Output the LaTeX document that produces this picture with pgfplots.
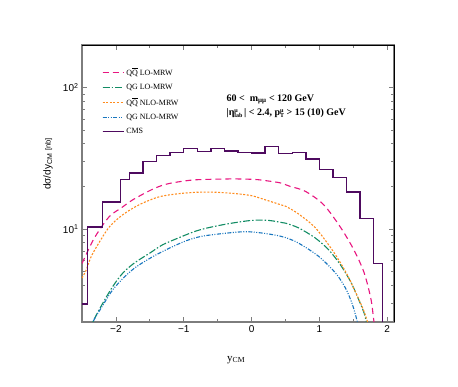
\documentclass[border=0pt]{standalone}
\usepackage{fontspec}
\setmainfont{Liberation Serif}
\setsansfont{Liberation Sans}
\usepackage{pgfplots}
\pgfplotsset{compat=1.18}
\definecolor{cpink}{RGB}{232,22,128}
\definecolor{cgreen}{RGB}{18,140,100}
\definecolor{corange}{RGB}{255,140,30}
\definecolor{cblue}{RGB}{25,118,190}
\definecolor{cpurple}{RGB}{78,10,95}
\definecolor{axgray}{RGB}{125,125,125}
\newcommand\qqbar{Q$\overline{\hbox{Q}}$}
\newcommand\supsub[2]{\raisebox{-0.5ex}{\fontsize{6}{6}\selectfont\begin{tabular}[b]{@{}l@{}}#1\\[-1.2pt]#2\end{tabular}}}
\begin{document}
\begin{tikzpicture}
\path[use as bounding box] (-82pt,-65pt) rectangle (376pt,322pt);
\begin{axis}[
  at={(0,0)}, anchor=south west,
  scale only axis, width=312pt, height=277pt,
  xmin=-2.5, xmax=2.1,
  ymode=log, ymin=2.2, ymax=200,
  xtick={-2,-1,0,1,2}, xticklabels={−2,−1,0,1,2},
  minor x tick num=1,
  ytick={10,100}, yticklabels={10\textsuperscript{1},10\textsuperscript{2}},
  minor ytick={3,4,5,6,7,8,9,20,30,40,50,60,70,80,90},
  tick align=inside,
  major tick length=5pt, minor tick length=3pt,
  tick style={axgray, line width=0.8pt},
  tick label style={font=\sffamily\fontsize{10}{12}\selectfont},
  axis line style={draw=axgray, line width=1.1pt},
  clip mode=individual,
  legend style={at={(0.063,0.925)}, anchor=north west, draw=none, fill=none,
    font=\fontsize{8}{9}\selectfont, row sep=3.2pt, inner sep=0pt},
  legend cell align=left,
  legend image code/.code={\draw[#1, line width=1.4pt] (0pt,0pt) -- (16pt,0pt); \path (0pt,0pt) -- (21pt,0pt);},
]
% QQbar LO-MRW
\addplot[draw=cpink, line width=1.1pt, dash pattern=on 6pt off 4pt, smooth] coordinates {
(-2.5,5.7) (-2.32,8.6) (-2.10,12.2) (-1.92,14.1) (-1.75,16.1) (-1.45,19.2)
(-1.23,20.9) (-0.91,22.1) (-0.69,22.4) (-0.27,22.6) (0.05,22.4) (0.23,21.9)
(0.42,21.2) (0.57,20.0) (0.79,18.5) (1.06,14.9) (1.31,10.3) (1.51,7.1)
(1.66,4.9) (1.76,3.2) (1.80,2.3) (1.83,1.8)};
\addlegendentry{\qqbar\ LO-MRW}
% QG LO-MRW
\addplot[draw=cgreen, line width=1.1pt, dash pattern=on 7pt off 2pt on 1.5pt off 2pt, smooth] coordinates {
(-2.37,1.9) (-2.34,2.2) (-2.20,2.95) (-2.05,3.9) (-1.90,4.87) (-1.73,5.74) (-1.50,6.76)
(-1.31,7.74) (-1.06,8.72) (-0.84,9.6) (-0.64,10.2) (-0.34,10.9) (0,11.5)
(0.25,11.5) (0.45,11.1) (0.5,11.0) (0.69,10.2) (0.94,8.63) (1.14,7.1)
(1.31,5.58) (1.46,4.25) (1.56,3.33) (1.66,2.54) (1.70,2.1) (1.72,1.9)};
\addlegendentry{QG LO-MRW}
% QQbar NLO-MRW
\addplot[draw=corange, line width=1.1pt, dash pattern=on 2pt off 1.6pt, smooth] coordinates {
(-2.5,4.5) (-2.44,5.1) (-2.37,6.3) (-2.27,7.7) (-2.10,10.3) (-1.90,12.6)
(-1.65,14.9) (-1.36,16.9) (-1.06,17.8) (-0.79,18.2) (-0.54,18.2) (-0.24,17.8)
(0,17.2) (0.2,16.1) (0.4,15.0) (0.5,14.5) (0.69,12.8) (0.94,10.2) (1.19,7.1)
(1.385,5.0) (1.53,3.6) (1.66,2.6) (1.75,1.9)};
\addlegendentry{\qqbar\ NLO-MRW}
% QG NLO-MRW
\addplot[draw=cblue, line width=1.1pt, dash pattern=on 4pt off 1.5pt on 1pt off 1.5pt on 1pt off 1.5pt, smooth] coordinates {
(-2.37,1.9) (-2.34,2.2) (-2.2,2.85) (-2.05,3.7) (-1.87,4.6) (-1.70,5.4) (-1.45,6.4)
(-1.21,7.33) (-0.96,8.27) (-0.74,8.87) (-0.44,9.27) (-0.1,9.57) (0.15,9.37)
(0.40,8.96) (0.5,8.7) (0.69,7.96) (0.99,6.4) (1.24,4.87) (1.385,3.82)
(1.48,2.99) (1.54,2.4) (1.57,2.1) (1.59,1.9)};
\addlegendentry{QG NLO-MRW}
% CMS
\addplot[draw=cpurple, line width=1.4pt, const plot mark left] coordinates {
(-2.5,2.95) (-2.42,10.3) (-2.2,15.5) (-1.93,22.4) (-1.8,24.9) (-1.6,30.1)
(-1.4,33.1) (-1.2,34.9) (-1.0,37.1) (-0.8,35.3) (-0.6,37.1) (-0.4,35.5)
(-0.2,34.9) (0,34.4) (0.2,38.5) (0.4,34.2) (0.6,34.8) (0.8,31.3) (1.0,26.3)
(1.2,23.1) (1.4,18.3) (1.6,11.9) (1.8,5.68) (1.93,1.0)};
\addlegendentry{CMS}
\draw[black, line width=0.7pt] (rel axis cs:0,1) -- (rel axis cs:1,1) -- (rel axis cs:1,0);
\node[anchor=west, font=\bfseries\fontsize{10}{12}\selectfont] at (rel axis cs:0.452,0.804)
  {60 <\ \ m\textsubscript{μμ} < 120 GeV};
\node[anchor=west, font=\bfseries\fontsize{10}{12}\selectfont] at (rel axis cs:0.452,0.752)
  {|η\supsub{μ}{lab}\,| < 2.4, p\supsub{μ}{T} > 15 (10) GeV};
\node[rotate=90, font=\sffamily\fontsize{10}{12}\selectfont] at ([xshift=-34pt]rel axis cs:0,0.570)
  {dσ/dy\textsubscript{CM} {\fontsize{7.5}{9}\selectfont[nb]}};
\node[font=\fontsize{11}{13}\selectfont] at ([yshift=-38pt]rel axis cs:0.494,0)
  {y\textsubscript{CM}};
\end{axis}
\end{tikzpicture}
\end{document}
